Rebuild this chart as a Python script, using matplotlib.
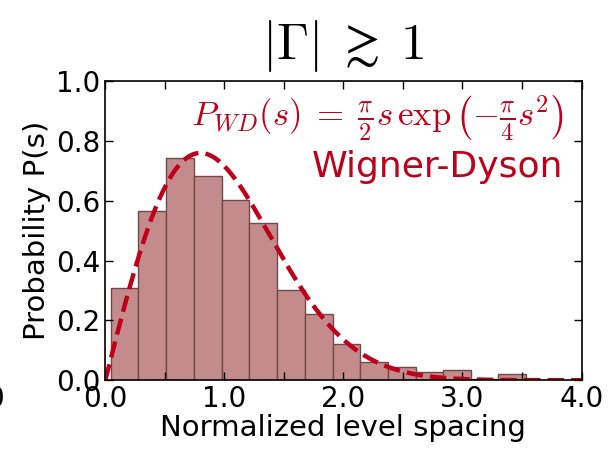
import numpy as np
import matplotlib
matplotlib.use('Agg')
import matplotlib.pyplot as plt

plt.rcParams['mathtext.fontset'] = 'cm'

# histogram (density normalised)
bin_edges = [0.044, 0.276, 0.508, 0.744, 0.977, 1.206, 1.441, 1.674, 1.909,
             2.139, 2.372, 2.607, 2.834, 3.069, 3.296, 3.534]
counts = [0.309, 0.566, 0.745, 0.683, 0.604, 0.527, 0.301, 0.223, 0.120,
          0.060, 0.043, 0.028, 0.035, 0.005, 0.020]

x_ticks = [0.0, 1.0, 2.0, 3.0, 4.0]
y_ticks = [0.0, 0.2, 0.4, 0.6, 0.8, 1.0]

red = '#c0001a'

fig = plt.figure(figsize=(6.16, 4.62), dpi=100)
ax = fig.add_axes([0.171, 0.177, 0.773, 0.647])

edges = np.array(bin_edges)
ax.bar(edges[:-1], counts, width=np.diff(edges), align='edge',
       color='#c48b8c', edgecolor='#6e4a4a', linewidth=1.0)

# Wigner-Dyson surmise
s = np.linspace(0, 4, 400)
p_wd = np.pi / 2 * s * np.exp(-np.pi / 4 * s**2)
ax.plot(s, p_wd, '--', color=red, lw=3.2)

ax.set_xlim(0, 4)
ax.set_ylim(0, 1)
ax.set_xticks(x_ticks)
ax.set_yticks(y_ticks)
ax.set_xticks(np.arange(0, 4.01, 0.5), minor=True)
ax.tick_params(which='both', direction='in', top=True, right=True,
               labelsize=20, length=6, width=1)
ax.tick_params(which='minor', length=6)
ax.xaxis.set_major_formatter(plt.FormatStrFormatter('%.1f'))
ax.yaxis.set_major_formatter(plt.FormatStrFormatter('%.1f'))
for sp in ax.spines.values():
    sp.set_linewidth(1.2)

ax.set_xlabel('Normalized level spacing', fontsize=21, labelpad=1)
ax.set_ylabel('Probability P(s)', fontsize=21, labelpad=4)
ax.set_title(r'$|\Gamma|\;\gtrsim\;1$', fontsize=37, pad=16)

ax.text(0.962, 0.96,
        r'$P_{WD}(s)\;=\;\frac{\pi}{2}s\,\exp\left(-\frac{\pi}{4}s^2\right)$',
        transform=ax.transAxes, ha='right', va='top', color=red, fontsize=25)
ax.text(0.962, 0.77, 'Wigner-Dyson', transform=ax.transAxes,
        ha='right', va='top', color=red, fontsize=26)

# clipped tick label from the neighbouring panel
fig.text(4 / 616, 0.136, '0', ha='right', va='center', fontsize=20)

fig.savefig('out.png', dpi=100)
